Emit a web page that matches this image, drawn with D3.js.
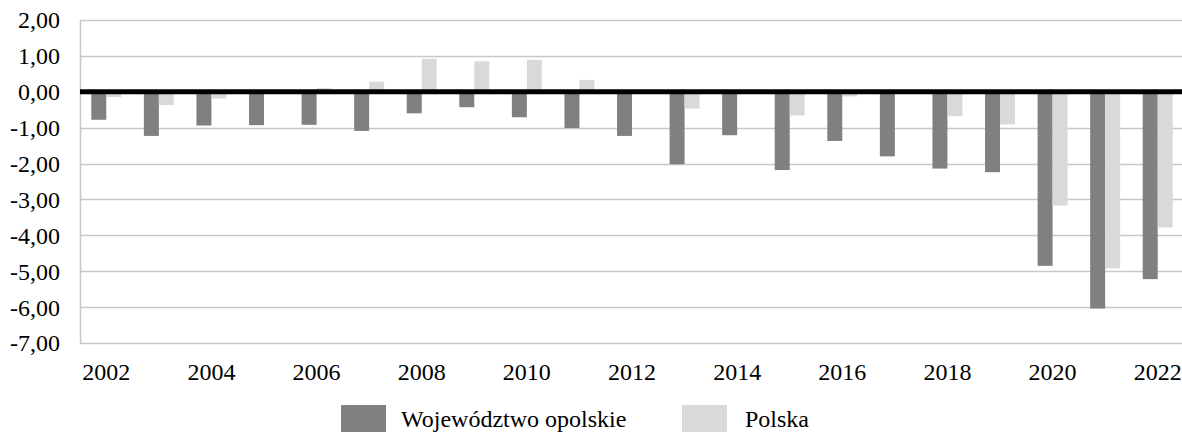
<!DOCTYPE html>
<html>
<head>
<meta charset="utf-8">
<script src="https://cdn.jsdelivr.net/npm/d3@7"></script>
<style>
  body { margin: 0; background: #fff; }
  text { font-family: "Liberation Serif", "Times New Roman", serif; fill: #000; }
</style>
</head>
<body>
<div id="chart"></div>
<script>
var years = ["2002", "2003", "2004", "2005", "2006", "2007", "2008", "2009", "2010", "2011",
    "2012", "2013", "2014", "2015", "2016", "2017", "2018", "2019", "2020", "2021", "2022"];
var opolskie = [-0.78, -1.23, -0.94, -0.93, -0.92, -1.09, -0.60, -0.43, -0.71, -1.01,
    -1.23, -2.02, -1.21, -2.18, -1.37, -1.80, -2.14, -2.24, -4.85, -6.04, -5.22];
var polska = [-0.15, -0.37, -0.19, -0.03, 0.10, 0.28, 0.92, 0.85, 0.89, 0.33,
    -0.02, -0.47, -0.02, -0.66, -0.13, -0.01, -0.68, -0.91, -3.17, -4.92, -3.78];
var seriesNames = ["Województwo opolskie", "Polska"];
var yTicks = [2, 1, 0, -1, -2, -3, -4, -5, -6, -7];

var width = 1182,
    height = 432;

var colors = {"Województwo opolskie": "#808080", "Polska": "#d9d9d9"};

var svg = d3.select("#chart").append("svg")
    .attr("width", width)
    .attr("height", height);

var x = d3.scaleBand()
    .domain(years)
    .range([80, 1184])
    .padding(0);

var inner = d3.scaleBand()
    .domain(seriesNames)
    .range([x.bandwidth() * 0.215, x.bandwidth() * 0.785]);

var y = d3.scaleLinear()
    .domain([-7, 2])
    .range([343, 20]);

var pl = d3.formatLocale({decimal: ",", thousands: " ", grouping: [3], currency: ["", " zł"], minus: "-"});
var fmt = pl.format(".2f");

// gridlines
svg.append("g")
    .selectAll("line")
    .data(yTicks)
    .join("line")
    .attr("x1", 80)
    .attr("x2", width)
    .attr("y1", function(d) { return Math.round(y(d)) + 0.5; })
    .attr("y2", function(d) { return Math.round(y(d)) + 0.5; })
    .attr("stroke", "#c8c8c8")
    .attr("stroke-width", 1.5);

svg.append("line")
    .attr("x1", 80.5).attr("x2", 80.5)
    .attr("y1", y(2)).attr("y2", y(-7))
    .attr("stroke", "#c8c8c8")
    .attr("stroke-width", 1.5);

// bars
var rows = years.map(function(yr, i) {
    return {year: yr, values: [
        {name: seriesNames[0], v: opolskie[i]},
        {name: seriesNames[1], v: polska[i]}
    ]};
});

svg.append("g")
    .selectAll("g")
    .data(rows)
    .join("g")
    .attr("transform", function(d) { return "translate(" + x(d.year) + ",0)"; })
    .selectAll("rect")
    .data(function(d) { return d.values; })
    .join("rect")
    .attr("x", function(d) { return inner(d.name); })
    .attr("width", inner.bandwidth())
    .attr("y", function(d) { return y(Math.max(0, d.v)); })
    .attr("height", function(d) { return Math.abs(y(d.v) - y(0)); })
    .attr("fill", function(d) { return colors[d.name]; });

// zero line
svg.append("line")
    .attr("x1", 80).attr("x2", width)
    .attr("y1", y(0)).attr("y2", y(0))
    .attr("stroke", "#000")
    .attr("stroke-width", 5);

// y axis labels
var yAxis = d3.axisLeft(y)
    .tickValues(yTicks)
    .tickFormat(fmt)
    .tickSize(0)
    .tickPadding(20);

svg.append("g")
    .attr("transform", "translate(80,0)")
    .call(yAxis)
    .call(function(g) { g.select(".domain").remove(); })
    .selectAll("text")
    .style("font-family", "Liberation Serif")
    .style("font-size", "24px")
    .attr("dy", "0.33em");

// x axis labels
var xAxis = d3.axisBottom(x)
    .tickValues(years.filter(function(d, i) { return i % 2 === 0; }))
    .tickSize(0)
    .tickPadding(20);

svg.append("g")
    .attr("transform", "translate(0," + y(-7) + ")")
    .call(xAxis)
    .call(function(g) { g.select(".domain").remove(); })
    .selectAll("text")
    .style("font-family", "Liberation Serif")
    .style("font-size", "24px");

// legend
var legendX = [341, 682];
var legend = svg.append("g")
    .selectAll("g")
    .data(seriesNames)
    .join("g")
    .attr("transform", function(d, i) { return "translate(" + legendX[i] + ",405)"; });

legend.append("rect")
    .attr("width", 45)
    .attr("height", 27)
    .attr("fill", function(d) { return colors[d]; });

legend.append("text")
    .attr("x", function(d, i) { return i === 0 ? 60 : 63; })
    .attr("y", 22)
    .style("font-size", "24px")
    .text(function(d) { return d; });
</script>
</body>
</html>
